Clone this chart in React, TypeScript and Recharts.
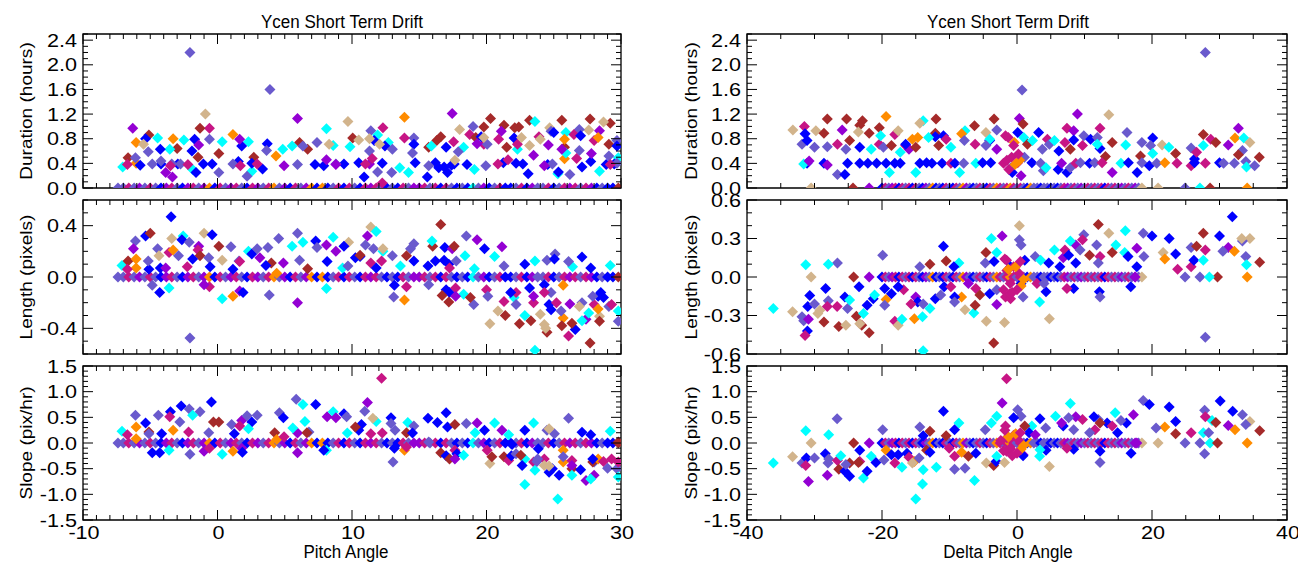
import React from 'react';
import { ScatterChart, Scatter, XAxis, YAxis, ReferenceArea } from 'recharts';

const COLOR_MAP: Record<string, string> = {
  B: '#0000FF', C: '#00FFFF', S: '#6A5ACD', V: '#9400D3',
  R: '#A52A2A', T: '#D2B48C', M: '#C71585', O: '#FF8C00',
};

type P = [number, number, string];
type Z = [number, string];

// Tick label values
const pitchMajor = [-10, 0, 10, 20, 30];
const deltaMajor = [-40, -20, 0, 20, 40];
const durationMajor = [0, 0.4, 0.8, 1.2, 1.6, 2.0, 2.4];
const lengthLeftMajor = [-0.4, 0, 0.4];
const lengthRightMajor = [-0.6, -0.3, 0, 0.3, 0.6];
const slopeMajor = [-1.5, -1.0, -0.5, 0, 0.5, 1.0, 1.5];

// events with zero duration / length / slope (x position, colour)
const leftZeroRow: Z[] = [
  [-7.4,'S'],[-7.0,'S'],[-6.6,'M'],[-6.2,'S'],[-5.8,'V'],[-5.4,'S'],[-5.0,'M'],[-4.6,'S'],[-4.2,'B'],[-3.8,'V'],
  [-3.4,'M'],[-3.0,'S'],[-2.6,'B'],[-2.2,'V'],[-1.8,'M'],[-1.4,'S'],[-1.0,'V'],[-0.6,'O'],[-0.2,'B'],[0.2,'M'],
  [0.6,'S'],[1.0,'V'],[1.4,'M'],[1.8,'S'],[2.2,'B'],[2.6,'M'],[3.0,'V'],[3.4,'S'],[3.8,'M'],[4.2,'O'],
  [4.6,'S'],[5.0,'V'],[5.4,'B'],[5.8,'M'],[6.2,'S'],[6.6,'V'],[7.0,'O'],[7.4,'B'],[7.8,'O'],[8.2,'B'],
  [8.6,'S'],[9.0,'M'],[9.4,'B'],[9.8,'M'],[10.2,'S'],[10.6,'B'],[11.0,'M'],[11.4,'V'],[11.8,'M'],[12.2,'S'],
  [12.6,'B'],[13.0,'S'],[13.4,'B'],[13.8,'M'],[14.2,'S'],[14.6,'V'],[15.0,'V'],[15.4,'M'],[15.8,'S'],[16.2,'M'],
  [16.6,'B'],[17.0,'M'],[17.4,'S'],[17.8,'B'],[18.2,'S'],[18.6,'B'],[19.0,'C'],[19.4,'S'],[19.8,'V'],[20.2,'B'],
  [20.6,'S'],[21.0,'M'],[21.4,'B'],[21.8,'B'],[22.2,'S'],[22.6,'M'],[23.0,'B'],[23.4,'V'],[23.8,'S'],[24.2,'S'],
  [24.6,'M'],[25.0,'B'],[25.4,'S'],[25.8,'M'],[26.2,'V'],[26.6,'M'],[27.0,'S'],[27.4,'M'],[27.8,'V'],[28.2,'B'],
  [28.6,'S'],[29.0,'B'],[29.4,'B'],[29.8,'R'],
];

const rightZeroRow: Z[] = [
  [-20.0,'B'],[-19.5,'M'],[-19.0,'S'],[-18.5,'V'],
  [-18.0,'M'],[-17.5,'B'],[-17.0,'M'],[-16.5,'S'],[-16.0,'M'],[-15.5,'B'],[-15.0,'M'],[-14.5,'S'],[-14.0,'B'],[-13.5,'V'],
  [-13.0,'S'],[-12.5,'O'],[-12.0,'B'],[-11.5,'S'],[-11.0,'B'],[-10.5,'M'],[-10.0,'S'],[-9.5,'B'],[-9.0,'M'],[-8.5,'S'],
  [-8.0,'O'],[-7.5,'V'],[-7.0,'S'],[-6.5,'B'],[-6.0,'S'],[-5.5,'M'],[-5.0,'S'],[-4.5,'B'],[-4.0,'M'],[-3.5,'S'],
  [-3.0,'O'],[-2.5,'M'],[-2.0,'S'],[-1.5,'M'],[-1.0,'O'],[-0.5,'M'],[0.0,'S'],[0.5,'M'],[1.0,'S'],[1.5,'B'],
  [2.0,'O'],[2.5,'S'],[3.0,'S'],[3.5,'B'],[4.0,'S'],[4.5,'S'],[5.0,'B'],[5.5,'S'],[6.0,'B'],[6.5,'S'],
  [7.0,'M'],[7.5,'V'],[8.0,'S'],[8.5,'M'],[9.0,'S'],[9.5,'V'],[10.0,'S'],[10.5,'M'],[11.0,'S'],[11.5,'M'],
  [12.0,'S'],[12.5,'M'],[13.0,'B'],[13.5,'M'],[14.0,'S'],[14.5,'M'],[15.0,'S'],[15.5,'V'],[16.0,'S'],[16.5,'M'],
  [17.0,'S'],[17.5,'V'],[18.0,'S'],[18.5,'T'],
];

const rightDurationZeroExtras: Z[] = [
  [-30.5,'T'],[-24.3,'R'],[-21.9,'V'],[20.9,'T'],[24.9,'S'],[27.1,'C'],[28.6,'R'],[34.1,'O'],
];

const leftDuration: P[] = [
  [-2.05,2.2,'S'],[3.9,1.6,'S'],[-0.9,1.2,'T'],[13.9,1.15,'O'],[17.45,1.21,'V'],[5.95,1.13,'V'],[-6.3,0.97,'V'],[9.7,1.08,'T'],[8.1,0.96,'C'],
  [20.3,1.13,'R'],[22.4,0.99,'R'],[23.2,1.1,'R'],[21.3,1.02,'R'],[25.6,1.1,'R'],[27.7,1.12,'R'],[29.2,1.05,'R'],[19.8,0.99,'R'],
  [28.7,1.07,'T'],[18,0.95,'T'],[24.7,0.98,'T'],[27.6,0.94,'T'],[23.6,1.08,'C'],[25.9,0.9,'C'],[21.1,0.92,'V'],[28.4,0.93,'V'],
  [19,1.0,'S'],[24.8,0.92,'S'],[26.9,0.95,'S'],[11.4,0.93,'S'],[14.6,0.81,'S'],[29.7,0.77,'S'],
  [12.3,0.98,'M'],[-0.6,0.97,'M'],[23.9,0.83,'M'],[18.75,0.87,'M'],[20.9,0.79,'M'],[28,0.77,'M'],[19.8,0.71,'M'],[26.5,0.87,'M'],[13.9,0.81,'M'],
  [-1.3,0.97,'R'],[-5.1,0.86,'R'],[10.05,0.81,'R'],[16.6,0.83,'R'],[19.2,0.82,'R'],[25.8,0.66,'R'],[29.1,0.71,'R'],[0.1,0.56,'R'],[-1.45,0.5,'R'],
  [-3.0,0.64,'R'],[6.1,0.74,'R'],[16.3,0.77,'R'],[6.7,0.63,'R'],[15.7,0.66,'R'],[21.5,0.66,'R'],[2.7,0.5,'R'],[-6.65,0.49,'R'],[22.1,0.98,'R'],
  [-6.05,0.74,'O'],[-3.3,0.8,'O'],[1.15,0.87,'O'],[25.8,0.79,'O'],[28.3,0.82,'O'],[4.35,0.52,'O'],[25.8,0.475,'O'],[-6.05,0.4,'O'],
  [-4.45,0.81,'C'],[-2.5,0.78,'C'],[0.35,0.75,'C'],[2.3,0.75,'C'],[-3.55,0.63,'C'],[4.85,0.63,'C'],[5.55,0.68,'C'],[8.6,0.69,'C'],[9.85,0.67,'C'],
  [11.9,0.86,'C'],[12.7,0.74,'C'],[15.9,0.68,'C'],[18.3,0.66,'C'],[22.3,0.63,'C'],[-7.05,0.34,'C'],[-1.85,0.3,'C'],[2.55,0.27,'C'],[13.55,0.33,'C'],
  [14.2,0.25,'C'],[19.1,0.3,'C'],[25.3,0.23,'C'],[28.4,0.27,'C'],[25.9,0.57,'C'],[29.8,0.49,'C'],
  [-5.35,0.8,'B'],[-4.25,0.63,'B'],[-1.7,0.79,'B'],[-1.9,0.6,'B'],[1.8,0.68,'B'],[3.7,0.72,'B'],[12.45,0.68,'B'],[14.6,0.71,'B'],[17.0,0.66,'B'],
  [19.6,0.83,'B'],[22.05,0.81,'B'],[25,0.9,'B'],[27,0.85,'B'],[29.7,0.68,'B'],[11.65,0.77,'B'],
  [-5.75,0.37,'B'],[-4.2,0.39,'B'],[-2.95,0.39,'B'],[-1.05,0.39,'B'],[-0.4,0.39,'B'],[1.55,0.43,'B'],[2.55,0.4,'B'],[3.35,0.31,'B'],[7.25,0.38,'B'],
  [7.9,0.36,'B'],[9.4,0.39,'B'],[10.5,0.41,'B'],[12.25,0.4,'B'],[14.7,0.41,'B'],[16.2,0.41,'B'],[16.85,0.34,'B'],[17.4,0.37,'B'],[17.6,0.39,'B'],
  [18.55,0.38,'B'],[21.25,0.41,'B'],[22.2,0.4,'B'],[22.7,0.39,'B'],[23.1,0.23,'B'],[24.55,0.38,'B'],[27.1,0.34,'B'],[27.75,0.43,'B'],[28.9,0.38,'B'],
  [29.5,0.39,'B'],[-1.6,0.25,'B'],[10.9,0.18,'B'],[15.6,0.18,'B'],[17.1,0.25,'B'],[16.45,0.33,'B'],[25.35,0.26,'B'],
  [-6.1,0.49,'S'],[-5.15,0.59,'S'],[-4.85,0.39,'S'],[-3.4,0.39,'S'],[-2.75,0.39,'S'],[-0.6,0.79,'S'],[0.1,0.25,'S'],[1.15,0.39,'S'],[2.2,0.19,'S'],
  [3.65,0.61,'S'],[6.35,0.68,'S'],[7.4,0.74,'S'],[8.8,0.39,'S'],[11.3,0.6,'S'],[13,0.63,'S'],[11.9,0.26,'S'],[12.95,0.25,'S'],[14.5,0.57,'S'],
  [15.7,0.36,'S'],[17.9,0.59,'S'],[19.95,0.36,'S'],[20.05,0.71,'S'],[24.9,0.39,'S'],[26.2,0.22,'S'],[26.9,0.61,'S'],[29.1,0.52,'S'],[29.7,0.4,'S'],
  [5.95,0.38,'S'],[-4.2,0.44,'S'],
  [-3.85,0.25,'V'],[-3.35,0.18,'V'],[-1.4,0.7,'V'],[1.65,0.79,'V'],[4.95,0.36,'V'],[8.1,0.46,'V'],[8.8,0.38,'V'],[19.3,0.72,'V'],[23.5,0.53,'V'],
  [24.3,0.36,'V'],[27.8,0.56,'V'],[25.6,0.63,'V'],[11.3,0.39,'V'],[24.6,0.7,'V'],
  [-6.7,0.38,'M'],[-3.5,0.36,'M'],[-2.2,0.38,'M'],[1.7,0.36,'M'],[2.95,0.39,'M'],[11,0.39,'M'],[11.5,0.48,'M'],[12.25,0.08,'M'],[20.85,0.39,'M'],
  [21.6,0.46,'M'],[22.3,0.71,'M'],[26.7,0.48,'M'],[29.2,0.38,'M'],[17.55,0.75,'M'],
  [-5.5,0.71,'T'],[8.3,0.71,'T'],[10.5,0.78,'T'],[11.3,0.8,'T'],[12.05,0.71,'T'],[17.65,0.45,'T'],[19.8,0.82,'T'],[23.2,0.69,'T'],[24,0.79,'T'],[22.6,0.82,'T'],
];

const leftLength: P[] = [
  [-3.45,0.47,'B'],[-2.05,-0.475,'S'],[16.6,0.41,'R'],[11.4,0.39,'T'],[11.8,0.355,'C'],
  [-5.35,0.32,'B'],[-5.0,0.34,'R'],[-6.1,0.28,'S'],[-3.4,0.3,'T'],[-1.0,0.34,'T'],[-0.4,0.33,'B'],[-2.55,0.32,'C'],[-2.65,0.29,'B'],[-2.1,0.27,'S'],
  [0.1,0.24,'R'],[1.0,0.235,'S'],[-1.4,0.24,'V'],[-1.45,0.21,'M'],[4.55,0.3,'S'],[5.95,0.34,'S'],[7.3,0.28,'B'],[8.6,0.31,'C'],[5.55,0.24,'C'],
  [6.35,0.27,'C'],[8.1,0.25,'V'],[7.4,0.23,'S'],[9.75,0.27,'T'],[9.4,0.24,'B'],[8.8,0.2,'V'],[11,0.25,'S'],[11.15,0.32,'V'],[11.6,0.22,'S'],
  [10.6,0.16,'B'],[12.3,0.2,'C'],[12.3,0.22,'T'],[14.35,0.22,'S'],[14.6,0.26,'S'],[16,0.24,'R'],[15.95,0.28,'C'],[16.9,0.23,'B'],[17.45,0.22,'V'],
  [18.5,0.32,'S'],[19.3,0.29,'V'],[19.85,0.22,'B'],[21.15,0.235,'V'],[17.6,0.24,'R'],
  [-5.1,0.06,'B'],[-7.1,0.09,'C'],[-6.65,0.125,'R'],[-6.05,0.14,'O'],[-6.05,0.07,'O'],[-6.7,0.06,'M'],[-5.15,0.125,'S'],[-6.25,0.22,'V'],
  [-4.45,0.22,'S'],[-4.35,0.165,'T'],[-4.25,0.07,'B'],[-3.6,0.19,'M'],[-3.3,0.21,'O'],[-2.9,0.165,'S'],[-2.25,0.08,'M'],[-1.3,0.165,'R'],
  [-0.65,0.15,'S'],[-0.55,0.08,'B'],[-1.85,0.14,'B'],[-3.85,0.07,'V'],[0.35,0.13,'T'],[1.15,0.06,'B'],[1.6,0.125,'S'],[1.65,0.12,'M'],
  [2.3,0.2,'C'],[2.55,0.18,'B'],[2.95,0.22,'S'],[3.15,0.15,'V'],[3.75,0.23,'S'],[4.0,0.11,'R'],[3.6,0.09,'B'],[4.4,0.03,'O'],[4.9,0.11,'V'],
  [6.7,0.065,'R'],[8.15,0.12,'B'],[6.1,0.13,'S'],[9.3,0.07,'C'],[9.7,0.085,'S'],[10.25,0.15,'B'],[10.6,0.17,'R'],[11.4,0.11,'M'],[12.2,0.125,'M'],
  [11.8,0.07,'B'],[13,0.165,'S'],[13.6,0.085,'C'],[14.05,0.165,'R'],[14.6,0.125,'B'],[15.65,0.085,'B'],[16.2,0.125,'B'],[16.85,0.13,'B'],
  [17.2,0.1,'B'],[17.25,0.07,'M'],[17.75,0.125,'S'],[18.4,0.165,'C'],[19.1,0.065,'C'],[21.3,0.085,'S'],[20.6,0.16,'C'],[23.6,0.125,'C'],
  [22.85,0.1,'B'],[24.5,0.13,'S'],[25.1,0.18,'S'],[25.05,0.14,'B'],[26.4,0.08,'C'],[26.1,0.12,'S'],[27.1,0.155,'B'],[27.75,0.07,'B'],[29.2,0.09,'C'],
  [-3.6,-0.085,'C'],[-4.85,-0.065,'S'],[-4.3,-0.12,'B'],[-0.6,-0.075,'M'],[-1.0,-0.06,'V'],[0.35,-0.17,'C'],[1.15,-0.15,'O'],[1.65,-0.11,'V'],
  [1.9,-0.12,'B'],[3.85,-0.14,'S'],[5.95,-0.2,'V'],[8.1,-0.09,'C'],[13.15,-0.065,'B'],[13.1,-0.155,'S'],[13.9,-0.18,'O'],[14.05,-0.075,'M'],
  [15.7,-0.06,'S'],[17,-0.1,'B'],[17.25,-0.12,'B'],[16.7,-0.145,'R'],[17.2,-0.195,'R'],[18.3,-0.135,'C'],[17.7,-0.085,'M'],[17.7,-0.15,'V'],
  [19.05,-0.215,'S'],[18.8,-0.16,'R'],[20,-0.1,'M'],[20.1,-0.15,'S'],[20.85,-0.265,'T'],[21.4,-0.3,'R'],[21.3,-0.19,'M'],[22.05,-0.16,'C'],
  [22.2,-0.215,'S'],[20.25,-0.365,'T'],[22.45,-0.365,'R'],[23.3,-0.34,'R'],[24,-0.29,'T'],[24.3,-0.37,'T'],[24.5,-0.43,'R'],[23.5,-0.2,'M'],
  [23.2,-0.085,'B'],[24.3,-0.06,'B'],[24.8,-0.12,'S'],[24.65,-0.215,'B'],[24.8,-0.255,'B'],[24.3,-0.12,'M'],[26.2,-0.21,'V'],[25.7,-0.065,'O'],
  [25.7,-0.32,'O'],[22.85,-0.3,'C'],[25.55,-0.265,'S'],[25.6,-0.38,'R'],[26.1,-0.46,'M'],[26.6,-0.41,'B'],[26.35,-0.36,'R'],[25.2,-0.2,'M'],
  [27.4,-0.33,'V'],[27.1,-0.34,'C'],[27.1,-0.2,'S'],[27.7,-0.515,'R'],[26.9,-0.23,'T'],[28.4,-0.305,'T'],[28.3,-0.15,'B'],[28,-0.215,'M'],
  [28.3,-0.25,'O'],[27.9,-0.15,'S'],[28.5,-0.12,'B'],[29.1,-0.23,'S'],[29.8,-0.265,'C'],[29.3,-0.215,'M'],[29.8,-0.345,'S'],[28.4,-0.345,'R'],
  [23.6,-0.57,'C'],[27.6,-0.28,'C'],[28.7,-0.16,'B'],[24.4,-0.4,'T'],[22.2,-0.12,'M'],[21.8,-0.12,'B'],[23.5,-0.15,'V'],
];

const leftSlope: P[] = [
  [12.2,1.26,'M'],[-0.45,0.8,'B'],[5.85,0.85,'S'],[6.35,0.75,'C'],[7.3,0.75,'B'],[-2.7,0.72,'B'],[-2.1,0.66,'S'],[-3.5,0.61,'B'],[11.15,0.79,'V'],
  [10.95,0.62,'S'],[-1.3,0.61,'S'],[-6.1,0.54,'S'],[-4.4,0.54,'S'],[-3.55,0.51,'M'],[-1.85,0.54,'C'],[-2.8,0.41,'S'],[-5.35,0.39,'B'],[-0.3,0.41,'R'],
  [0.1,0.41,'R'],[1.05,0.36,'S'],[1.8,0.44,'V'],[2.2,0.53,'S'],[2.95,0.54,'S'],[2.55,0.41,'B'],[4.6,0.59,'S'],[4.9,0.49,'B'],[6.5,0.42,'C'],
  [8.15,0.51,'V'],[8.6,0.61,'C'],[9.4,0.57,'B'],[9.6,0.51,'S'],[8.8,0.49,'V'],[10.7,0.36,'B'],[11.8,0.42,'C'],[11.55,0.48,'T'],[12.9,0.49,'B'],
  [12.9,0.38,'S'],[14.15,0.4,'C'],[14.6,0.33,'S'],[15.65,0.48,'B'],[16.35,0.4,'B'],[17,0.59,'B'],[17.1,0.31,'B'],[17.65,0.36,'R'],[18.5,0.38,'S'],
  [19.3,0.39,'V'],[20.6,0.39,'C'],[19.85,0.25,'B'],[19.15,0.2,'C'],[21.15,0.25,'V'],[21.65,0.16,'C'],[22.85,0.25,'B'],[23.5,0.39,'C'],[24.5,0.25,'S'],
  [26.1,0.48,'S'],[27.1,0.21,'B'],[27.75,0.16,'B'],[29.2,0.23,'C'],[25.05,0.18,'S'],[24.65,0.28,'T'],
  [-7.1,0.23,'C'],[-6.7,0.16,'M'],[-6.05,0.31,'O'],[-6.05,0.085,'O'],[-5.1,0.215,'R'],[-5.1,0.18,'S'],[-4.15,0.18,'B'],[-3.3,0.25,'O'],
  [-2.15,0.215,'M'],[-0.65,0.2,'S'],[1.25,0.18,'B'],[1.65,0.33,'M'],[2.3,0.28,'C'],[4.25,0.2,'R'],[4.4,0.07,'O'],[4.95,0.12,'M'],[5.95,0.195,'V'],
  [5.6,0.29,'C'],[6.8,0.215,'S'],[6.65,0.2,'R'],[9.65,0.195,'C'],[10.5,0.25,'B'],[10.25,0.31,'R'],[11.4,0.18,'M'],[13.2,0.25,'S'],[14.05,0.2,'R'],
  [12.25,0.195,'M'],[14.5,0.195,'B'],[15.7,0.02,'S'],
  [-4.85,-0.19,'B'],[-4.3,-0.19,'B'],[-3.6,-0.14,'C'],[-2.05,-0.22,'S'],[-1.0,-0.16,'V'],[-0.6,-0.1,'M'],[0.35,-0.22,'C'],[1.15,-0.16,'O'],
  [1.8,-0.1,'V'],[1.85,-0.18,'B'],[5.95,-0.19,'V'],[8.1,-0.14,'C'],[7.9,-0.14,'B'],[13.15,-0.1,'B'],[13.05,-0.37,'S'],[13.9,-0.14,'O'],
  [14.05,-0.08,'M'],[16.6,-0.19,'R'],[17,-0.25,'B'],[17.25,-0.31,'R'],[17.65,-0.14,'M'],[17.8,-0.21,'B'],[18.3,-0.24,'C'],[17.65,-0.31,'V'],
  [20.05,-0.14,'M'],[20.25,-0.4,'T'],[20.4,-0.27,'R'],[21.3,-0.27,'R'],[21.65,-0.34,'M'],[21.85,-0.25,'B'],[22.2,-0.21,'S'],[22.85,-0.31,'C'],
  [22.65,-0.44,'B'],[22.55,-0.24,'R'],[23.5,-0.37,'M'],[23.6,-0.53,'C'],[23.75,-0.36,'S'],[23.85,-0.11,'B'],[24.65,-0.57,'B'],[25.4,-0.63,'B'],
  [24.9,-0.5,'B'],[24.3,-0.31,'M'],[24.3,-0.44,'T'],[25.7,-0.37,'O'],[25.7,-0.14,'O'],[25.7,-0.27,'S'],[26.35,-0.5,'R'],[26.35,-0.34,'M'],
  [26.35,-0.44,'V'],[27,-0.52,'B'],[26.35,-0.63,'C'],[27.4,-0.73,'V'],[28,-0.63,'V'],[27.75,-0.7,'C'],[28,-0.37,'S'],[27.9,-0.37,'R'],
  [28.3,-0.31,'O'],[27.9,-0.31,'B'],[28.7,-0.36,'M'],[29,-0.49,'S'],[29.3,-0.31,'M'],[29.7,-0.5,'S'],[29.8,-0.66,'C'],[29.8,-0.37,'M'],
  [29.8,0.02,'R'],[22.85,-0.81,'C'],[25.3,-1.09,'C'],[24.65,-0.45,'T'],[21.9,-0.03,'B'],[23.8,-0.31,'S'],
];

const rightDuration: P[] = [
  [27.9,2.2,'S'],[0.75,1.59,'S'],[8.95,1.2,'V'],[13.6,1.19,'T'],[-19.4,1.16,'O'],[-28.1,1.12,'R'],[-25.25,1.12,'R'],[-22.9,1.09,'R'],[-23.3,1.02,'R'],
  [-12,1.12,'R'],[-3.4,1.12,'R'],[-13.9,1.09,'C'],[-14.4,1.05,'T'],[0.35,1.13,'V'],[0.9,1.04,'R'],[-31.5,1.0,'M'],[-33.2,0.94,'T'],[-29.8,0.93,'T'],
  [-28.6,0.89,'R'],[-25.9,0.94,'V'],[-21.9,0.89,'R'],[-20.4,0.98,'R'],[-23.5,0.91,'T'],[-18.1,0.87,'M'],[-17.6,0.93,'T'],[-12.1,0.89,'R'],
  [-6.3,1.01,'R'],[-7.7,0.93,'C'],[-8.2,0.88,'O'],[-4.6,0.9,'T'],[-3,0.94,'S'],[-1.7,0.85,'M'],[7.4,0.97,'M'],[8.4,0.93,'V'],[12.3,0.97,'M'],
  [16.3,0.9,'S'],[27.6,0.87,'R'],[32.8,0.97,'V'],[28.7,0.79,'M'],[29.45,0.74,'R'],[32.3,0.81,'O'],[33.6,0.81,'C'],[34.5,0.74,'T'],
  [-31.85,0.71,'S'],[-31.1,0.77,'B'],[-31.4,0.88,'B'],[-30,0.66,'S'],[-28.1,0.67,'S'],[-26.6,0.71,'M'],[-25.35,0.63,'S'],[-23.3,0.66,'B'],
  [-24.8,0.77,'R'],[-21.6,0.63,'C'],[-20.4,0.71,'M'],[-19.8,0.66,'S'],[-20.2,0.85,'C'],[-18.6,0.69,'R'],[-16.5,0.69,'M'],[-16,0.63,'V'],
  [-15.5,0.79,'O'],[-14.7,0.82,'O'],[-17.3,0.58,'C'],[-16.5,0.71,'B'],[-15,0.66,'R'],[-12.1,0.83,'B'],[-10.9,0.85,'B'],[-13.1,0.82,'C'],
  [-11.6,0.69,'R'],[-10.5,0.79,'M'],[-9.8,0.66,'C'],[-7.8,0.77,'S'],[-6.2,0.71,'M'],[-4.05,0.77,'B'],[-4.05,0.79,'C'],[-4.6,0.69,'S'],
  [-3,0.63,'V'],[-1.3,0.82,'M'],[-0.4,0.74,'O'],[1,0.82,'C'],[0.1,0.9,'B'],[-0.5,0.69,'M'],[1.55,0.71,'R'],[3.2,0.9,'B'],[2.3,0.77,'C'],
  [3.75,0.63,'S'],[4.5,0.79,'M'],[4.8,0.71,'S'],[5.55,0.77,'C'],[6.2,0.6,'B'],[7.1,0.74,'M'],[8.4,0.78,'B'],[7.9,0.63,'R'],[9.9,0.85,'S'],
  [9.7,0.69,'M'],[10.9,0.79,'B'],[11.9,0.82,'S'],[12.3,0.64,'B'],[11.9,0.71,'C'],[13.1,0.51,'R'],[14.1,0.74,'R'],[16.1,0.7,'C'],[18.5,0.74,'S'],
  [20.1,0.81,'B'],[19.8,0.69,'S'],[20.1,0.56,'C'],[21.5,0.7,'T'],[22.5,0.66,'C'],[23.5,0.56,'R'],[25.8,0.65,'S'],[26.3,0.47,'B'],[26.6,0.58,'M'],
  [27.6,0.69,'C'],[31.3,0.7,'V'],[33.4,0.61,'S'],[32.8,0.54,'R'],[33.9,0.43,'S'],[35.9,0.5,'R'],[18.3,0.52,'R'],
  [-31.1,0.4,'B'],[-31.6,0.39,'C'],[-30.8,0.44,'V'],[-28.6,0.4,'B'],[-28.1,0.375,'V'],[-26.6,0.22,'S'],[-25.5,0.22,'B'],[-25.1,0.4,'B'],
  [-23.3,0.4,'B'],[-22.1,0.4,'B'],[-20.8,0.4,'B'],[-19.4,0.4,'B'],[-18.9,0.25,'C'],[-18.1,0.4,'B'],[-17.3,0.4,'B'],[-15,0.25,'C'],[-14.4,0.4,'B'],
  [-13.4,0.41,'B'],[-12.6,0.4,'B'],[-11.1,0.4,'B'],[-9.8,0.4,'M'],[-9.2,0.4,'B'],[-8.5,0.25,'C'],[-7.9,0.4,'S'],[-6.1,0.4,'C'],[-5.1,0.41,'B'],
  [-3.9,0.41,'B'],[-2,0.4,'M'],[-0.9,0.33,'S'],[-0.7,0.25,'B'],[0.6,0.2,'V'],[0.1,0.41,'M'],[1.1,0.5,'S'],[2.2,0.41,'B'],[3.5,0.4,'S'],
  [3.9,0.28,'S'],[4.3,0.33,'C'],[6.1,0.3,'B'],[6.6,0.4,'V'],[7.4,0.25,'B'],[7.9,0.33,'S'],[8.7,0.4,'M'],[9.4,0.41,'S'],[10.75,0.4,'B'],
  [11.5,0.41,'S'],[12.6,0.41,'M'],[14.1,0.25,'V'],[15.4,0.4,'C'],[16.5,0.41,'B'],[17.8,0.25,'B'],[18.5,0.41,'S'],[19.6,0.36,'B'],[20.7,0.4,'S'],
  [21.9,0.41,'O'],[23.7,0.4,'M'],[25.8,0.36,'M'],[26.3,0.41,'B'],[27.9,0.4,'M'],[30,0.41,'B'],[30.6,0.4,'S'],[32.2,0.4,'S'],[34,0.34,'C'],[35.2,0.36,'S'],
  [-1.5,0.45,'M'],[-0.8,0.5,'M'],[0.4,0.45,'O'],[-1.2,0.3,'M'],[0.2,0.55,'M'],[-0.3,0.38,'O'],
];

const rightLength: P[] = [
  [31.9,0.47,'B'],[12.05,0.41,'R'],[0.35,0.4,'T'],[-3.8,0.3,'C'],[-2.2,0.32,'V'],[13.6,0.34,'T'],[16.05,0.36,'C'],[18.7,0.34,'S'],[20,0.32,'B'],
  [22.55,0.3,'B'],[27.6,0.34,'R'],[30,0.32,'B'],[34.5,0.3,'T'],[9.9,0.33,'S'],[9.7,0.29,'M'],[8.7,0.25,'V'],[7.9,0.28,'C'],[0.35,0.29,'S'],
  [0.6,0.25,'S'],[-10.9,0.24,'B'],[-19.9,0.17,'S'],[-26.6,0.11,'S'],[-27.95,0.1,'C'],[-31.3,0.095,'C'],[-30.5,0.0,'T'],[-24.2,0,'R'],[-21.9,0,'V'],
  [-12.9,0.1,'R'],[-10.5,0.125,'R'],[-8.6,0.11,'C'],[-9.35,0.08,'B'],[-14.4,0.08,'S'],[-4.6,0.19,'R'],[-3,0.19,'C'],[-4.7,0.11,'S'],[-1.55,0.13,'M'],
  [-3.4,0.12,'B'],[-0.95,0.08,'B'],[1.15,0.13,'B'],[2.7,0.16,'S'],[3.5,0.13,'C'],[4.7,0.11,'B'],[6.85,0.15,'V'],[5.55,0.21,'C'],[7.1,0.21,'M'],
  [6.35,0.08,'B'],[7.65,0.17,'B'],[8.7,0.11,'B'],[9.35,0.21,'S'],[10.75,0.17,'R'],[11.8,0.25,'S'],[12.3,0.16,'M'],[12.05,0.11,'S'],[14.65,0.25,'C'],
  [14.1,0.19,'R'],[15.95,0.19,'C'],[16.45,0.16,'B'],[17.75,0.08,'B'],[17.75,0.225,'V'],[18.8,0.16,'S'],[21.65,0.19,'T'],[21.9,0.14,'O'],[23.5,0.18,'B'],
  [23.8,0.06,'M'],[24.9,0,'S'],[25.8,0.23,'S'],[25.8,0.08,'M'],[26.2,0.13,'B'],[27.9,0.21,'M'],[27.6,0.13,'C'],[26.6,0.24,'R'],[27.1,0,'S'],
  [29.7,0,'R'],[28.5,0,'C'],[31.3,0.23,'V'],[32.2,0.2,'O'],[33.4,0.28,'S'],[33.3,0.3,'T'],[33.9,0.16,'S'],[34,0.095,'C'],[35.95,0.115,'R'],
  [34.1,0,'O'],[30.5,0.2,'S'],[17.5,0,'V'],
  [-36.1,-0.245,'C'],[-33.25,-0.27,'T'],[-31.85,-0.31,'S'],[-31.6,-0.34,'S'],[-30.9,-0.33,'V'],[-31.05,-0.42,'B'],[-31.4,-0.455,'M'],[-30.7,-0.145,'B'],
  [-31,-0.23,'B'],[-30,-0.21,'S'],[-29.5,-0.285,'T'],[-28.6,-0.35,'R'],[-29.2,-0.26,'T'],[-28.35,-0.09,'B'],[-27.95,-0.185,'S'],[-28.1,-0.23,'M'],
  [-26.4,-0.385,'R'],[-25.35,-0.375,'T'],[-25.5,-0.155,'B'],[-25.1,-0.245,'S'],[-24.8,-0.18,'C'],[-26.65,-0.23,'M'],[-23.8,-0.305,'R'],[-23,-0.375,'R'],
  [-21.9,-0.435,'R'],[-23.3,-0.365,'T'],[-22.75,-0.285,'C'],[-22.2,-0.22,'B'],[-23.4,-0.075,'B'],[-19.6,-0.09,'B'],[-19.4,-0.175,'O'],[-19.6,-0.22,'S'],
  [-21.3,-0.17,'B'],[-21.1,-0.14,'C'],[-18.1,-0.345,'M'],[-17.6,-0.375,'T'],[-17.05,-0.33,'C'],[-18.6,-0.13,'B'],[-16.8,-0.1,'M'],[-17.6,-0.075,'B'],
  [-15,-0.155,'V'],[-15.2,-0.325,'O'],[-14,-0.31,'C'],[-14.7,-0.195,'B'],[-13.9,-0.21,'S'],[-13.9,-0.575,'C'],[-15.7,-0.21,'M'],[-12.9,-0.245,'C'],
  [-12.1,-0.17,'B'],[-11.3,-0.14,'S'],[-10.8,-0.075,'B'],[-9.8,-0.075,'M'],[-7.7,-0.255,'T'],[-6.4,-0.28,'C'],[-6.1,-0.09,'M'],[-6.2,-0.22,'R'],
  [-8.2,-0.155,'O'],[-7.2,-0.05,'V'],[-9.25,-0.155,'B'],[-9.25,-0.195,'S'],[-5.5,-0.14,'R'],[-4.55,-0.345,'T'],[-3.45,-0.515,'R'],[-1.85,-0.355,'T'],
  [-4.05,-0.13,'B'],[-3,-0.1,'S'],[-1.7,-0.155,'M'],[-0.95,-0.17,'M'],[-3,-0.215,'V'],[0.6,-0.05,'B'],[0.6,-0.07,'O'],[-1.05,-0.13,'M'],
  [0.9,-0.155,'S'],[3.35,-0.195,'C'],[4.3,-0.115,'B'],[2.95,-0.05,'M'],[4,-0.05,'S'],[4.8,-0.325,'T'],[8.4,-0.09,'B'],[7.4,-0.09,'M'],
  [12.2,-0.115,'B'],[12.3,-0.155,'S'],[16.85,-0.075,'B'],[27.9,-0.47,'S'],
  [-1.5,0.05,'M'],[-1.0,-0.05,'M'],[-0.5,0.08,'M'],[0.0,-0.1,'M'],[0.3,0.03,'M'],[-1.3,0.06,'O'],[-0.2,0.08,'O'],[-2.0,-0.1,'M'],[-0.7,-0.12,'M'],
  [0.5,0.12,'M'],[-1.8,0.14,'M'],[1.0,-0.02,'O'],
];

const rightSlope: P[] = [
  [-1.55,1.25,'M'],[-2.2,0.78,'V'],[7.9,0.77,'C'],[18.7,0.83,'S'],[19.6,0.75,'B'],[22.55,0.7,'B'],[30.1,0.82,'B'],[27.8,0.64,'S'],[31.95,0.62,'B'],
  [33.4,0.55,'S'],[28.9,0.44,'C'],[34.5,0.42,'T'],[33.9,0.36,'S'],[35.95,0.24,'R'],[32.3,0.26,'O'],[31.3,0.34,'V'],[27.9,0.51,'M'],[29.45,0.4,'R'],
  [27.6,0.2,'C'],[28.4,0.2,'S'],[28.6,0,'C'],[27.1,0,'S'],[27.8,-0.21,'S'],[29.7,0,'R'],[34.1,0,'O'],[25.8,0.2,'M'],[23.5,0.18,'R'],[23.5,0.42,'B'],
  [24.9,0,'S'],[20.9,0,'T'],[17.75,0,'V'],[16.9,-0.2,'B'],[12.3,-0.16,'B'],[12.3,-0.38,'S'],[21.9,0.31,'O'],[20.6,0.29,'S'],[14.55,0.59,'C'],
  [17.25,0.55,'V'],[16.2,0.39,'B'],[15.4,0.44,'S'],[13.35,0.39,'B'],[12.05,0.46,'S'],[11.4,0.51,'B'],[9.7,0.46,'M'],[8.7,0.51,'V'],[7.65,0.49,'S'],
  [6.85,0.33,'B'],[5.7,0.52,'C'],[6.6,0.39,'V'],[8.4,0.26,'S'],[11.55,0.26,'M'],[12.3,0.39,'R'],[10.75,0.2,'S'],[14.9,0.2,'B'],[14.1,0.33,'M'],
  [3.4,0.47,'B'],[4.25,0.29,'S'],[2.2,0.33,'C'],[0.1,0.65,'S'],[0.6,0.52,'S'],[-0.5,0.49,'B'],[-3,0.52,'C'],[-3.8,0.39,'C'],[-4.7,0.26,'S'],
  [-1.7,0.33,'M'],[1.15,0.33,'R'],[1.8,0.2,'B'],[2.7,0.16,'V'],[-8.6,0.39,'C'],[-9.25,0.26,'B'],[-10.5,0.14,'R'],[-10.9,0.62,'B'],[-14.4,0.31,'S'],
  [-12.9,0.23,'R'],[-13.9,0.14,'B'],[-19.9,0.26,'S'],[-26.65,0.47,'S'],[-27.9,0.16,'C'],[-31.3,0.24,'C'],[-30.5,0,'T'],[-24.2,0,'R'],[-21.9,0,'V'],
  [-36.1,-0.39,'C'],[-33.25,-0.27,'T'],[-31.85,-0.39,'S'],[-31.2,-0.29,'B'],[-31.3,-0.44,'M'],[-30,-0.29,'S'],[-30.9,-0.75,'V'],[-28.4,-0.21,'B'],
  [-28,-0.39,'S'],[-28.1,-0.63,'V'],[-27.9,-0.31,'S'],[-26.6,-0.34,'M'],[-26.4,-0.51,'R'],[-25.5,-0.55,'B'],[-24.8,-0.65,'B'],[-24.8,-0.39,'R'],
  [-25.35,-0.42,'S'],[-26.1,-0.25,'C'],[-23.3,-0.36,'M'],[-23.5,-0.38,'R'],[-22.75,-0.68,'C'],[-22.2,-0.55,'B'],[-23.3,-0.14,'B'],[-21.6,-0.26,'C'],
  [-20.9,-0.38,'B'],[-19.7,-0.33,'S'],[-19.4,-0.14,'O'],[-18.6,-0.23,'B'],[-18.1,-0.39,'M'],[-17.6,-0.23,'B'],[-17.05,-0.47,'C'],[-16.3,-0.2,'B'],
  [-16,-0.28,'M'],[-15.2,-0.36,'O'],[-15.5,-0.39,'T'],[-14.5,-0.29,'S'],[-13.9,-0.52,'C'],[-14,-0.8,'C'],[-15,-1.09,'C'],[-13.4,-0.14,'R'],
  [-12.9,-0.18,'B'],[-11.95,-0.47,'C'],[-10.05,-0.1,'M'],[-8.2,-0.18,'O'],[-9.25,-0.26,'M'],[-9.25,-0.51,'S'],[-7.7,-0.49,'S'],[-6.3,-0.73,'C'],
  [-7.2,-0.26,'R'],[-6.1,-0.2,'B'],[-4.55,-0.39,'T'],[-3.45,-0.44,'R'],[-3.1,-0.36,'B'],[-3,-0.26,'C'],[-1.55,-0.16,'M'],[-1.85,-0.38,'T'],
  [-0.95,-0.12,'M'],[0.9,-0.23,'V'],[0.9,-0.25,'B'],[0.6,-0.12,'O'],[3.35,-0.26,'C'],[4.8,-0.46,'T'],[4.3,-0.14,'B'],[3.4,-0.13,'C'],[8.4,-0.12,'B'],
  [7.4,-0.1,'M'],
  [-1.5,0.1,'M'],[-1.0,-0.1,'M'],[-0.5,0.15,'M'],[0.0,-0.2,'M'],[0.3,0.05,'M'],[-1.3,0.12,'O'],[-0.2,0.18,'O'],[-2.0,-0.15,'M'],[-0.7,-0.25,'M'],
  [0.5,0.2,'M'],[-1.8,0.25,'M'],[1.0,-0.05,'O'],[-2.4,0.05,'M'],
];

function range(a: number, b: number, s: number): number[] {
  const out: number[] = [];
  const n = Math.round((b - a) / s);
  for (let i = 0; i <= n; i++) out.push(Math.round((a + i * s) * 1000) / 1000);
  return out;
}
const isIn = (v: number, arr: number[]) => arr.some((m) => Math.abs(m - v) < 1e-6);

const FONT = '"Liberation Sans", Arial, Helvetica, sans-serif';
const VSTRETCH = 1.12;   // titles look taller than wide
const TICK_HSTRETCH = 1.2; // tick numbers look wider than tall

const Diamond = (props: any) => {
  const { cx, cy, payload } = props;
  if (cx == null || cy == null) return null;
  const r = 5.5;
  return (
    <polygon
      points={`${cx},${cy - r} ${cx + r},${cy} ${cx},${cy + r} ${cx - r},${cy}`}
      fill={COLOR_MAP[payload.c]}
    />
  );
};

interface PanelProps {
  left: number; top: number; w: number; h: number;
  xDomain: [number, number]; xMajor: number[]; xStep: number;
  yDomain: [number, number]; yMajor: number[]; yStep: number;
  showX: boolean; points: P[]; zeros?: Z[];
}

const YAW = 60; // y axis width
const XAH = 30; // x axis height

function Panel(p: PanelProps) {
  const mL = 80, mR = 14, mT = 14, mB = 40;
  const xTicks = range(p.xDomain[0], p.xDomain[1], p.xStep);
  const yTicks = range(p.yDomain[0], p.yDomain[1], p.yStep);
  const data = [
    ...(p.zeros || []).map(([x, c]) => ({ x, y: 0, c })),
    ...p.points.map(([x, y, c]) => ({ x, y, c })),
  ];
  const XTick = (tp: any) => {
    const { x, y, payload } = tp;
    const v = payload.value;
    const major = isIn(v, p.xMajor);
    const len = major ? 10 : 5;
    return (
      <g>
        <line x1={x} x2={x} y1={y} y2={y - len} stroke="#000" strokeWidth={1} />
        <line x1={x} x2={x} y1={y - p.h} y2={y - p.h + len} stroke="#000" strokeWidth={1} />
        {p.showX && major && (
          <text transform={`translate(${x + 1},${y + 19}) scale(${TICK_HSTRETCH},1)`} textAnchor="middle"
            fontFamily={FONT} fontSize={18} fill="#000">
            {String(v)}
          </text>
        )}
      </g>
    );
  };
  const YTick = (tp: any) => {
    const { x, y, payload } = tp;
    const v = payload.value;
    const major = isIn(v, p.yMajor);
    const len = major ? 10 : 5;
    return (
      <g>
        <line x1={x} x2={x + len} y1={y} y2={y} stroke="#000" strokeWidth={1} />
        <line x1={x + p.w} x2={x + p.w - len} y1={y} y2={y} stroke="#000" strokeWidth={1} />
        {major && (
          <text transform={`translate(${x - 6},${y + 6.5}) scale(${TICK_HSTRETCH},1)`} textAnchor="end"
            fontFamily={FONT} fontSize={18} fill="#000">
            {v.toFixed(1)}
          </text>
        )}
      </g>
    );
  };
  return (
    <div style={{ position: 'absolute', left: p.left - mL, top: p.top - mT }}>
      <ScatterChart width={p.w + mL + mR} height={p.h + mT + mB}
        margin={{ left: mL - YAW, right: mR, top: mT, bottom: mB - XAH }}>
        <XAxis type="number" dataKey="x" domain={p.xDomain} allowDataOverflow ticks={xTicks} interval={0}
          tick={XTick} tickLine={false} axisLine={false} tickSize={0} tickMargin={0} height={XAH} />
        <YAxis type="number" dataKey="y" domain={p.yDomain} allowDataOverflow ticks={yTicks} interval={0}
          tick={YTick} tickLine={false} axisLine={false} tickSize={0} tickMargin={0} width={YAW} />
        <ReferenceArea x1={p.xDomain[0]} x2={p.xDomain[1]} y1={p.yDomain[0]} y2={p.yDomain[1]}
          fill="none" fillOpacity={0} stroke="#000" strokeWidth={1.3} ifOverflow="visible" />
        <Scatter data={data} shape={Diamond} isAnimationActive={false} />
      </ScatterChart>
    </div>
  );
}

const LX = 83, RX = 747, LW = 538, RW = 540;
const ROWS = [34, 200, 366];
const PH = 154;

export default function App() {
  const rightDurZeros = [...rightZeroRow, ...rightDurationZeroExtras];
  const hText = (x: number, y: number, s: string) => (
    <text transform={`translate(${x},${y}) scale(1,${VSTRETCH})`} textAnchor="middle">{s}</text>
  );
  const vText = (x: number, y: number, s: string) => (
    <text transform={`translate(${x},${y}) rotate(-90) scale(${VSTRETCH},1)`} textAnchor="middle">{s}</text>
  );
  return (
    <div style={{ position: 'absolute', left: 0, top: 0, width: 1298, height: 563, background: '#fff' }}>
      <Panel left={LX} top={ROWS[0]} w={LW} h={PH} xDomain={[-10, 30]} xMajor={pitchMajor} xStep={1}
        yDomain={[0, 2.5]} yMajor={durationMajor} yStep={0.1} showX={false} points={leftDuration} zeros={leftZeroRow} />
      <Panel left={LX} top={ROWS[1]} w={LW} h={PH} xDomain={[-10, 30]} xMajor={pitchMajor} xStep={1}
        yDomain={[-0.6, 0.6]} yMajor={lengthLeftMajor} yStep={0.1} showX={false} points={leftLength} zeros={leftZeroRow} />
      <Panel left={LX} top={ROWS[2]} w={LW} h={PH} xDomain={[-10, 30]} xMajor={pitchMajor} xStep={1}
        yDomain={[-1.5, 1.5]} yMajor={slopeMajor} yStep={0.1} showX={true} points={leftSlope} zeros={leftZeroRow} />
      <Panel left={RX} top={ROWS[0]} w={RW} h={PH} xDomain={[-40, 40]} xMajor={deltaMajor} xStep={5}
        yDomain={[0, 2.5]} yMajor={durationMajor} yStep={0.1} showX={false} points={rightDuration} zeros={rightDurZeros} />
      <Panel left={RX} top={ROWS[1]} w={RW} h={PH} xDomain={[-40, 40]} xMajor={deltaMajor} xStep={5}
        yDomain={[-0.6, 0.6]} yMajor={lengthRightMajor} yStep={0.1} showX={false} points={rightLength} zeros={rightZeroRow} />
      <Panel left={RX} top={ROWS[2]} w={RW} h={PH} xDomain={[-40, 40]} xMajor={deltaMajor} xStep={5}
        yDomain={[-1.5, 1.5]} yMajor={slopeMajor} yStep={0.1} showX={true} points={rightSlope} zeros={rightZeroRow} />
      <svg width={1298} height={563} style={{ position: 'absolute', left: 0, top: 0, pointerEvents: 'none' }}>
        <g fontFamily={FONT} fontSize={17} fill="#000">
          {hText(342, 28, 'Ycen Short Term Drift')}
          {hText(1008, 28, 'Ycen Short Term Drift')}
          {hText(346, 558, 'Pitch Angle')}
          {hText(1008, 558, 'Delta Pitch Angle')}
          {vText(32, ROWS[0] + PH / 2, 'Duration (hours)')}
          {vText(32, ROWS[1] + PH / 2, 'Length (pixels)')}
          {vText(32, ROWS[2] + PH / 2, 'Slope (pix/hr)')}
          {vText(697, ROWS[0] + PH / 2, 'Duration (hours)')}
          {vText(697, ROWS[1] + PH / 2, 'Length (pixels)')}
          {vText(697, ROWS[2] + PH / 2, 'Slope (pix/hr)')}
        </g>
      </svg>
    </div>
  );
}
